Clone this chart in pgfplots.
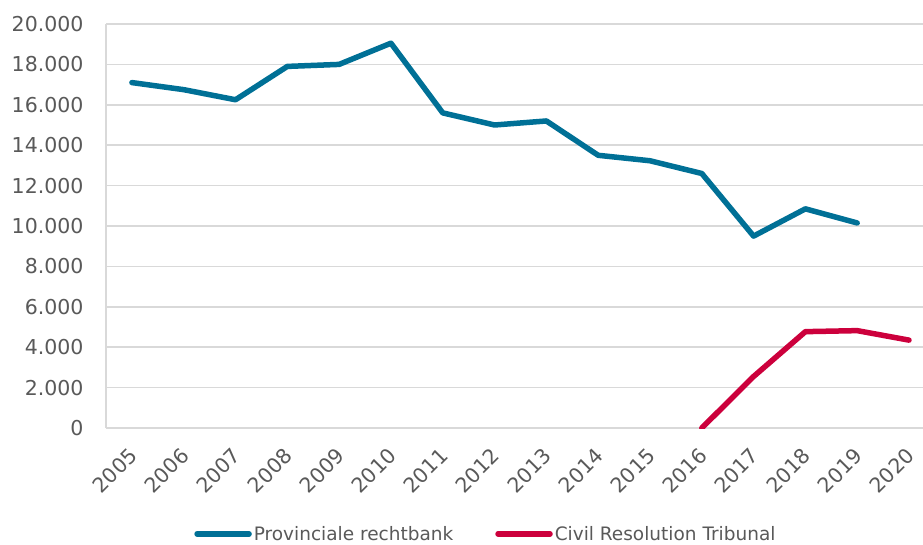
\documentclass[border=0pt]{standalone}
\usepackage{pgfplots}
\pgfplotsset{compat=1.18}
\usepackage{fontspec}
\setmainfont{DejaVu Sans}
\definecolor{prov}{RGB}{0,112,150}
\definecolor{crt}{RGB}{204,0,60}
\definecolor{gridc}{RGB}{217,217,217}
\definecolor{txt}{RGB}{89,89,89}
\begin{document}
\begin{tikzpicture}
\path[use as bounding box] (0,0) rectangle (923pt,544pt);
\begin{axis}[
  at={(106pt,116pt)}, anchor=south west,
  scale only axis, width=817pt, height=404pt,
  xmin=-0.5, xmax=15.27, ymin=0, ymax=20000,
  xtick={0,...,15},
  xticklabels={2005,2006,2007,2008,2009,2010,2011,2012,2013,2014,2015,2016,2017,2018,2019,2020},
  ytick={0,2000,...,20000},
  scaled y ticks=false,
  axis x line*=bottom, axis y line*=left,
  axis line style={gridc, line width=1.5pt, -},
  major tick length=0pt,
  ymajorgrids, grid style={gridc, line width=1.5pt},
  /pgf/number format/.cd, fixed, precision=0, 1000 sep={.}, assume math mode=true,
  /pgfplots/.cd,
  tick label style={font=\fontsize{20.5}{23}\selectfont, text=txt},
  yticklabel style={xshift=-19pt},
  xticklabel style={rotate=45, anchor=east, inner sep=0pt, xshift=-16pt, yshift=-18pt},
  legend columns=2,
  legend style={at={(0.465,-0.262)}, anchor=center, draw=none, fill=none,
    font=\fontsize{18.5}{21}\selectfont, text=txt,
    /tikz/every even column/.append style={column sep=40pt},
    cells={inner sep=1pt}},
  legend image code/.code={\draw[#1, line width=5.5pt, line cap=round] (0pt,0pt) -- (52pt,0pt);},
  every axis plot/.append style={line width=5.5pt, line cap=round, line join=round},
]
\addplot[prov] coordinates {
 (0,17100) (1,16750) (2,16250) (3,17900) (4,18000) (5,19050) (6,15600) (7,15000)
 (8,15200) (9,13500) (10,13230) (11,12600) (12,9500) (13,10850) (14,10150)};
\addlegendentry{Provinciale rechtbank}
\addplot[crt] coordinates {
 (11,0) (12,2550) (13,4770) (14,4820) (15,4350)};
\addlegendentry{Civil Resolution Tribunal}
\end{axis}
\end{tikzpicture}
\end{document}
